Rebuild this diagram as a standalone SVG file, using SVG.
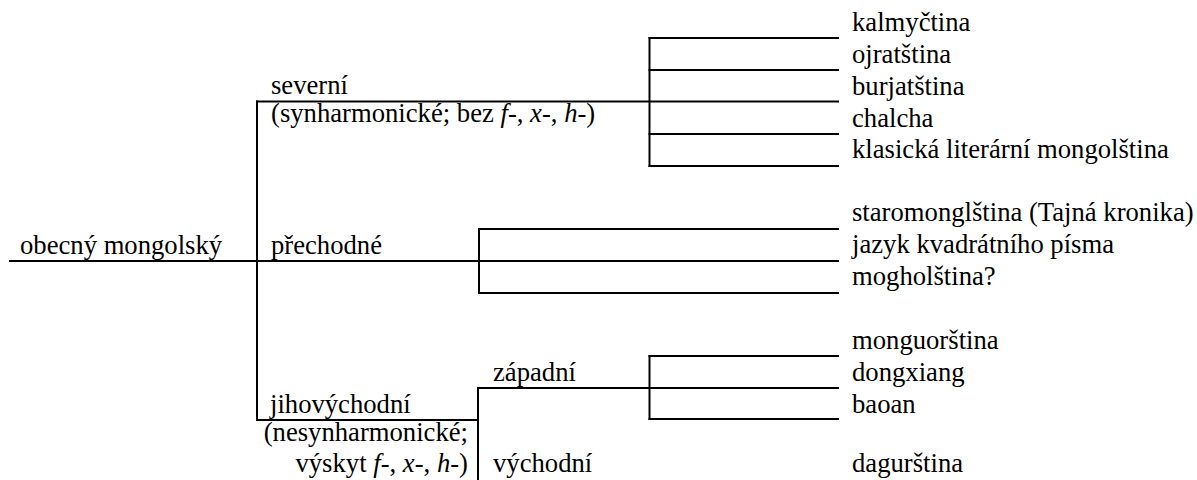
<svg xmlns="http://www.w3.org/2000/svg" width="1197" height="480" viewBox="0 0 1197 480">
<style>
.t{font-family:"Liberation Serif","Times New Roman",serif;font-size:26.67px;fill:#000}
.i{font-style:italic}
.e{text-anchor:end}
.c line{stroke:#000;stroke-width:2;stroke-linecap:square}
</style>
<rect width="1197" height="480" fill="#fff"/>
<g id="connectors" class="c">
<line x1="10" y1="261" x2="257" y2="261"/>
<line x1="257" y1="101.5" x2="257" y2="420"/>
<line x1="257" y1="101.5" x2="838" y2="101.5"/>
<line x1="649.5" y1="38" x2="649.5" y2="166"/>
<line x1="649.5" y1="38" x2="838" y2="38"/>
<line x1="649.5" y1="70" x2="838" y2="70"/>
<line x1="649.5" y1="134" x2="838" y2="134"/>
<line x1="649.5" y1="166" x2="838" y2="166"/>
<line x1="257" y1="261" x2="838" y2="261"/>
<line x1="479" y1="229" x2="479" y2="293"/>
<line x1="479" y1="229" x2="838" y2="229"/>
<line x1="479" y1="293" x2="838" y2="293"/>
<line x1="257" y1="420" x2="478" y2="420"/>
<line x1="478" y1="388" x2="478" y2="481"/>
<line x1="478" y1="388" x2="838" y2="388"/>
<line x1="649.5" y1="356" x2="649.5" y2="419"/>
<line x1="649.5" y1="356" x2="838" y2="356"/>
<line x1="649.5" y1="419" x2="838" y2="419"/>
</g>
<g id="root"><text class="t" x="20" y="254">obecný mongolský</text></g>
<g id="severni">
<text class="t" x="271" y="93.5">severní</text>
<text class="t" x="271" y="122">(synharmonické; bez <tspan class="i">f</tspan>-, <tspan class="i">x</tspan>-, <tspan class="i">h</tspan>-)</text>
</g>
<g id="prechodne"><text class="t" x="271" y="254">přechodné</text></g>
<g id="jihovychodni">
<text class="t" x="270" y="413">jihovýchodní</text>
<text class="t e" x="468" y="441">(nesynharmonické;</text>
<text class="t e" x="468" y="472">výskyt <tspan class="i">f</tspan>-, <tspan class="i">x</tspan>-, <tspan class="i">h</tspan>-)</text>
</g>
<g id="zapadni"><text class="t" x="493" y="381">západní</text></g>
<g id="vychodni"><text class="t" x="493" y="472">východní</text></g>
<g id="leaf-kalmyctina"><text class="t" x="852" y="31">kalmyčtina</text></g>
<g id="leaf-ojratstina"><text class="t" x="852" y="63">ojratština</text></g>
<g id="leaf-burjatstina"><text class="t" x="852" y="94.5">burjatština</text></g>
<g id="leaf-chalcha"><text class="t" x="852" y="126.5">chalcha</text></g>
<g id="leaf-klasicka"><text class="t" x="852" y="158">klasická literární mongolština</text></g>
<g id="leaf-staromonglstina"><text class="t" x="852" y="221">staromonglština (Tajná kronika)</text></g>
<g id="leaf-jazyk"><text class="t" x="852" y="253">jazyk kvadrátního písma</text></g>
<g id="leaf-mogholstina"><text class="t" x="852" y="285">mogholština?</text></g>
<g id="leaf-monguorstina"><text class="t" x="852" y="349">monguorština</text></g>
<g id="leaf-dongxiang"><text class="t" x="852" y="381">dongxiang</text></g>
<g id="leaf-baoan"><text class="t" x="852" y="412.5">baoan</text></g>
<g id="leaf-dagurstina"><text class="t" x="852" y="472">dagurština</text></g>
</svg>
